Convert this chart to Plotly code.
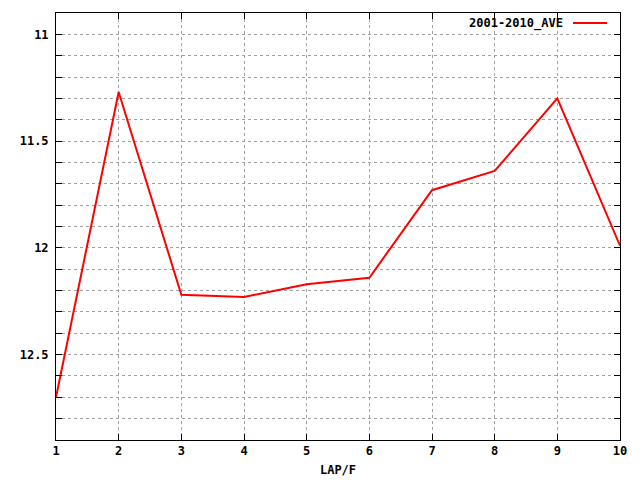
import plotly.graph_objects as go

laps = [1, 2, 3, 4, 5, 6, 7, 8, 9, 10]
ave_2001_2010 = [12.70, 11.27, 12.22, 12.23, 12.17, 12.14, 11.73, 11.64, 11.30, 11.99]
series_name = "2001-2010_AVE"
y_tick_vals = [11, 11.5, 12, 12.5]
y_tick_text = ["11", "11.5", "12", "12.5"]

font_family = "DejaVu Sans Mono"
grid_color = "#a0a0a0"

# page body has an 8px margin; compensate so the plot area lands at 56..620 x 13..440
W, H = 632, 472
ML, MR, MT, MB = 48, 20, 5, 40
PW, PH = W - ML - MR, H - MT - MB

fig = go.Figure()
fig.add_trace(go.Scatter(x=laps, y=ave_2001_2010, mode="lines", name=series_name,
                         line=dict(color="#ff0000", width=2), showlegend=False))

fig.update_layout(
    width=W, height=H,
    margin=dict(l=ML, r=MR, t=MT, b=MB, autoexpand=False),
    plot_bgcolor="white", paper_bgcolor="white",
    font=dict(family=font_family, size=12, color="black"),
    xaxis=dict(
        range=[1, 10], tickmode="array", tickvals=laps, ticktext=[str(v) for v in laps],
        ticks="inside", ticklen=6, tickcolor="black", showline=True, linecolor="black",
        linewidth=1, mirror="allticks", showgrid=True, gridcolor=grid_color,
        griddash="3px,3px", gridwidth=1, zeroline=False, automargin=False,
        tickfont=dict(family=font_family, size=12, weight="bold"),
        title=dict(text="LAP/F", font=dict(family=font_family, size=12, weight="bold"), standoff=8),
    ),
    yaxis=dict(
        range=[12.9, 10.9], tickmode="array", tickvals=y_tick_vals, ticktext=y_tick_text,
        ticks="inside", ticklen=6, tickcolor="black", showline=True, linecolor="black",
        linewidth=1, mirror="allticks", showgrid=True, gridcolor=grid_color,
        griddash="3px,3px", gridwidth=1, zeroline=False, automargin=False,
        tickfont=dict(family=font_family, size=12, weight="bold"),
        minor=dict(dtick=0.1, tick0=11, ticks="inside", ticklen=6, tickcolor="black",
                   showgrid=True, gridcolor=grid_color, griddash="3px,3px", gridwidth=1),
        ticklabelstandoff=4,
    ),
)

leg_y = (PH - (23 - 13)) / PH
fig.add_annotation(xref="paper", yref="paper", x=(565 - 56) / PW, y=leg_y,
                   text=series_name, showarrow=False, xanchor="right", yanchor="middle",
                   font=dict(family=font_family, size=12, weight="bold"))
fig.add_shape(type="line", xref="paper", yref="paper",
              x0=(573 - 56) / PW, x1=(607 - 56) / PW, y0=leg_y, y1=leg_y,
              line=dict(color="#ff0000", width=2))

fig.write_html("out.html")
